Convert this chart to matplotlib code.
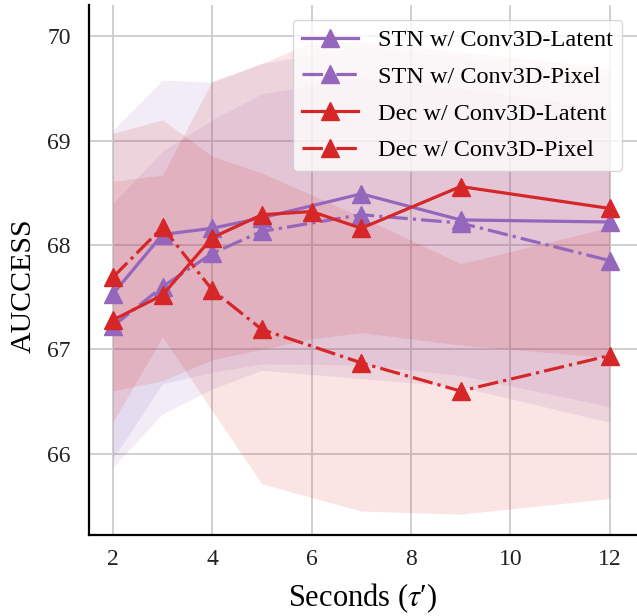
import numpy as np
import matplotlib
matplotlib.use('Agg')
import matplotlib.pyplot as plt

plt.rcParams['font.family'] = ['Liberation Serif', 'DejaVu Serif']
plt.rcParams['mathtext.fontset'] = 'stix'

# x positions (Dec latent has an extra point at 6 s)
secs = [2, 3, 4, 5, 7, 9, 12]
secs_dec_lat = [2, 3, 4, 5, 6, 7, 9, 12]

stn_latent = [67.53, 68.10, 68.16, 68.26, 68.49, 68.24, 68.22]
stn_pixel = [67.22, 67.60, 67.92, 68.13, 68.29, 68.21, 67.85]
dec_latent = [67.28, 67.52, 68.07, 68.29, 68.32, 68.16, 68.56, 68.35]
dec_pixel = [67.69, 68.17, 67.57, 67.19, 66.87, 66.60, 66.94]

# error bands (lower / upper)
stn_latent_lo = [65.95, 66.67, 66.78, 66.86, 66.85, 66.75, 66.45]
stn_latent_hi = [69.10, 69.58, 69.56, 69.74, 69.90, 69.80, 69.60]
stn_pixel_lo = [65.87, 66.38, 66.62, 66.80, 66.72, 66.64, 66.30]
stn_pixel_hi = [68.40, 68.90, 69.20, 69.45, 69.60, 69.50, 69.30]
dec_latent_lo = [66.60, 66.70, 66.90, 67.00, 67.10, 67.16, 67.04, 66.92]
dec_latent_hi = [68.61, 68.67, 69.57, 69.74, 69.94, 69.95, 69.85, 69.70]
dec_pixel_lo = [66.30, 67.12, 66.41, 65.71, 65.45, 65.42, 65.57]
dec_pixel_hi = [69.07, 69.20, 68.85, 68.69, 68.27, 67.82, 68.17]

purple = '#9467bd'
red = '#d62728'

fig = plt.figure(figsize=(6.37, 6.16), dpi=100)
ax = fig.add_axes([89/637, 1 - 535/616, 1 - 89/637, 530/616])

band_alpha = 0.12
ax.fill_between(secs, stn_latent_lo, stn_latent_hi, color=purple, alpha=band_alpha, lw=0)
ax.fill_between(secs, stn_pixel_lo, stn_pixel_hi, color=purple, alpha=band_alpha, lw=0)
ax.fill_between(secs_dec_lat, dec_latent_lo, dec_latent_hi, color=red, alpha=band_alpha, lw=0)
ax.fill_between(secs, dec_pixel_lo, dec_pixel_hi, color=red, alpha=band_alpha, lw=0)

kw = dict(marker='^', ms=12.5, lw=2.3, zorder=5)
ax.plot(secs, stn_latent, '-', color=purple, label='STN w/ Conv3D-Latent', **kw)
ax.plot(secs, stn_pixel, '-.', color=purple, label='STN w/ Conv3D-Pixel', **kw)
ax.plot(secs_dec_lat, dec_latent, '-', color=red, label='Dec w/ Conv3D-Latent', **kw)
ax.plot(secs, dec_pixel, '-.', color=red, label='Dec w/ Conv3D-Pixel', **kw)

ax.set_xlim(1.52, 12.55)
ax.set_ylim(65.22, 70.3)
ax.set_xticks([2, 4, 6, 8, 10, 12])
ax.set_yticks([66, 67, 68, 69, 70])
ax.grid(True, color='#cccccc', lw=1.3)
ax.set_axisbelow(True)
ax.tick_params(length=0, labelsize=17, colors='#222222')
ax.tick_params(axis='y', pad=13)
ax.tick_params(axis='x', pad=10)
for s in ['top', 'right']:
    ax.spines[s].set_visible(False)
for s in ['left', 'bottom']:
    ax.spines[s].set_linewidth(1.6)
    ax.spines[s].set_color('black')

ax.set_xlabel("Seconds (" + r"$\tau$" + "\u2032)", fontsize=22, labelpad=8)
ax.set_ylabel('AUCCESS', fontsize=21.5, labelpad=8, y=0.47)

leg = ax.legend(loc='upper right', fontsize=17.5, handlelength=2.3,
                labelspacing=0.6, borderaxespad=0.6, fancybox=True,
                framealpha=0.8, edgecolor='#cccccc')

fig.savefig('out.png', dpi=100)
